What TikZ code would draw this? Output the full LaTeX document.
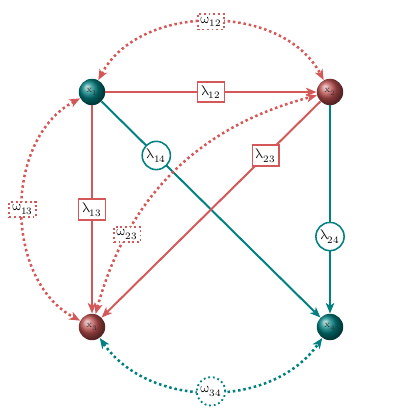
\documentclass[tikz,border=0pt]{standalone}
\usepackage{unicode-math}
\setmathfont{Latin Modern Math}
\usetikzlibrary{arrows.meta}
\definecolor{myred}{RGB}{212,88,88}
\definecolor{myteal}{RGB}{0,128,128}
\begin{document}
\begin{tikzpicture}[x=0.025cm,y=-0.025cm,
  ball/.style={circle, minimum size=0.66cm, inner sep=0pt, font=\scriptsize, text=black!80},
  tball/.style={ball, shading=ball, ball color=myteal},
  rball/.style={ball, shading=ball, ball color=myred!90!black},
  tipst/.style={-{Stealth[length=7.5pt,width=6pt,inset=2pt]}},
  lamR/.style={draw=myred, line width=1.4pt, tipst},
  lamT/.style={draw=myteal, line width=1.4pt, tipst},
  omR/.style={draw=myred, line width=1.8pt, dotted, {Stealth[length=7.5pt,width=6pt,inset=2pt]}-{Stealth[length=7.5pt,width=6pt,inset=2pt]}},
  omT/.style={draw=myteal, line width=1.8pt, dotted, {Stealth[length=7.5pt,width=6pt,inset=2pt]}-{Stealth[length=7.5pt,width=6pt,inset=2pt]}},
  rlab/.style={draw=myred, fill=white, solid, line width=1.1pt, inner sep=2.6pt},
  tlab/.style={circle, draw=myteal, fill=white, solid, line width=1.1pt, inner sep=1.2pt},
  rolab/.style={draw=myred, fill=white, dotted, line width=1.3pt, inner sep=2pt},
  tolab/.style={circle, draw=myteal, fill=white, dotted, line width=1.3pt, inner sep=1.4pt}
]
\useasboundingbox (0,0) rectangle (420,420);
\node[tball] (x1) at (92,92) {$\mathrm{x}_1$};
\node[rball] (x2) at (330,92) {$\mathrm{x}_2$};
\node[rball] (x3) at (92,327) {$\mathrm{x}_3$};
\node[tball] (x4) at (330,327) {$\mathrm{x}_4$};

\draw[lamT] (x1) -- node[pos=.25,tlab]{$\symup{\lambda}_{14}$} (x4);
\draw[lamT] (x2) -- node[pos=.63,tlab]{$\symup{\lambda}_{24}$} (x4);
\draw[lamR] (x1) -- node[rlab]{$\symup{\lambda}_{12}$} (x2);
\draw[lamR] (x1) -- node[rlab]{$\symup{\lambda}_{13}$} (x3);
\draw[lamR] (x2) -- node[pos=.25,rlab]{$\symup{\lambda}_{23}$} (x3);

\draw[omR] (x1) to[bend left=62] node[rolab]{$\symup{\omega}_{12}$} (x2);
\draw[omR] (x1) to[bend right=62] node[rolab]{$\symup{\omega}_{13}$} (x3);
\draw[omR] (x3) to[bend left=30] node[pos=.25,rolab]{$\symup{\omega}_{23}$} (x2);
\draw[omT] (x3) to[bend right=55] node[tolab]{$\symup{\omega}_{34}$} (x4);
\end{tikzpicture}
\end{document}
